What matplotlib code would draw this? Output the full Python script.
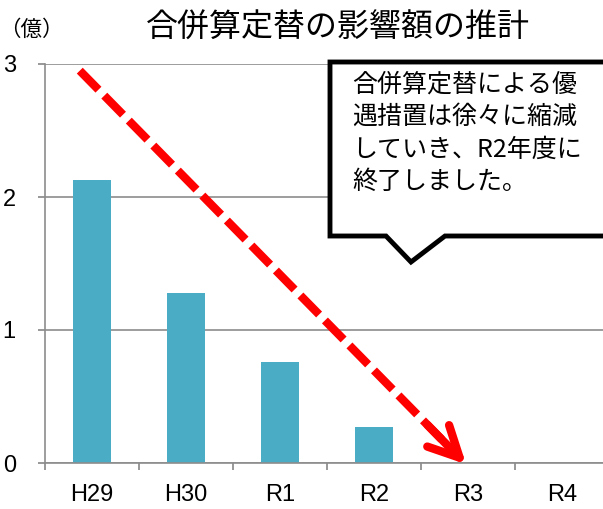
import matplotlib.pyplot as plt
import numpy as np
from matplotlib.patches import Polygon

plt.rcParams["font.family"] = ["Noto Sans CJK JP", "DejaVu Sans"]

categories = ["H29", "H30", "R1", "R2", "R3", "R4"]
values = [2.13, 1.28, 0.76, 0.27, 0.0, 0.0]
yticks = [0, 1, 2, 3]

title = "合併算定替の影響額の推計"
unit_label = "（億）"
callout_text = "合併算定替による優\n遇措置は徐々に縮減\nしていき、R2年度に\n終了しました。"

# trend arrow (data coords): start near H29 top, tip at R3 baseline
arrow_start = (-0.13, 2.95)
arrow_end = (3.98, -0.01)

W, H = 603, 509
fig = plt.figure(figsize=(W / 100, H / 100), dpi=100)
ax = fig.add_axes([45 / W, 1 - 463 / H, 564 / W, 399 / H])

x = np.arange(len(categories))
ax.bar(x, values, width=0.4, color="#4BACC6", zorder=2)

lab_font = ["Liberation Sans", "DejaVu Sans"]
ax.set_xlim(-0.5, len(categories) - 0.5)
ax.set_ylim(0, 3)
ax.set_yticks(yticks)
ax.set_yticklabels([str(v) for v in yticks], fontsize=17, family=lab_font)
ax.set_xticks(np.arange(len(categories) + 1) - 0.5, minor=False)
ax.set_xticklabels([""] * (len(categories) + 1))
ax.set_xticks(x, minor=True)
ax.set_xticklabels(categories, minor=True, fontsize=17, family=lab_font)
ax.tick_params(axis="x", which="major", length=5, color="#868686", width=1.2)
ax.tick_params(axis="x", which="minor", length=0, pad=15)
ax.tick_params(axis="y", length=5, color="#868686", width=1.2, pad=16)

ax.grid(axis="y", color="#8c8c8c", lw=1.2, zorder=0)
for side in ["top", "right"]:
    ax.spines[side].set_visible(False)
for side in ["left", "bottom"]:
    ax.spines[side].set_color("#8c8c8c")
    ax.spines[side].set_linewidth(1.2)

# dashed red trend arrow
(x0, y0), (x1, y1) = arrow_start, arrow_end
t = 0.94
ax.plot([x0, x0 + (x1 - x0) * t], [y0, y0 + (y1 - y0) * t], color="#FF0000", lw=6,
        dashes=(3.2, 1.0), dash_capstyle="butt", zorder=4, clip_on=False)
ax.annotate("", xy=(x1, y1), xytext=(x0 + (x1 - x0) * 0.9, y0 + (y1 - y0) * 0.9),
            arrowprops=dict(arrowstyle="->,head_length=1.1,head_width=0.55", mutation_scale=20,
                            color="#FF0000", lw=6, shrinkA=0, shrinkB=0, capstyle="round"),
            zorder=4, annotation_clip=False)

# speech-bubble callout, pixel coords of the figure
def px(xp, yp):
    return (xp / W, 1 - yp / H)

bubble = [px(330, 62), px(612, 62), px(612, 236), px(445, 236), px(411, 262), px(386, 236), px(330, 236)]
fig.patches.append(Polygon(bubble, closed=True, transform=fig.transFigure, facecolor="white",
                           edgecolor="black", lw=3.5, joinstyle="miter", zorder=10))
fig.text(*px(352, 133), callout_text, fontsize=18, va="center", ha="left", linespacing=1.33, zorder=11)

fig.text(*px(338, 28), title, fontsize=23, ha="center", va="center")
fig.text(*px(31, 30), unit_label, fontsize=15.5, ha="center", va="center")

fig.savefig("out.png", dpi=100)
